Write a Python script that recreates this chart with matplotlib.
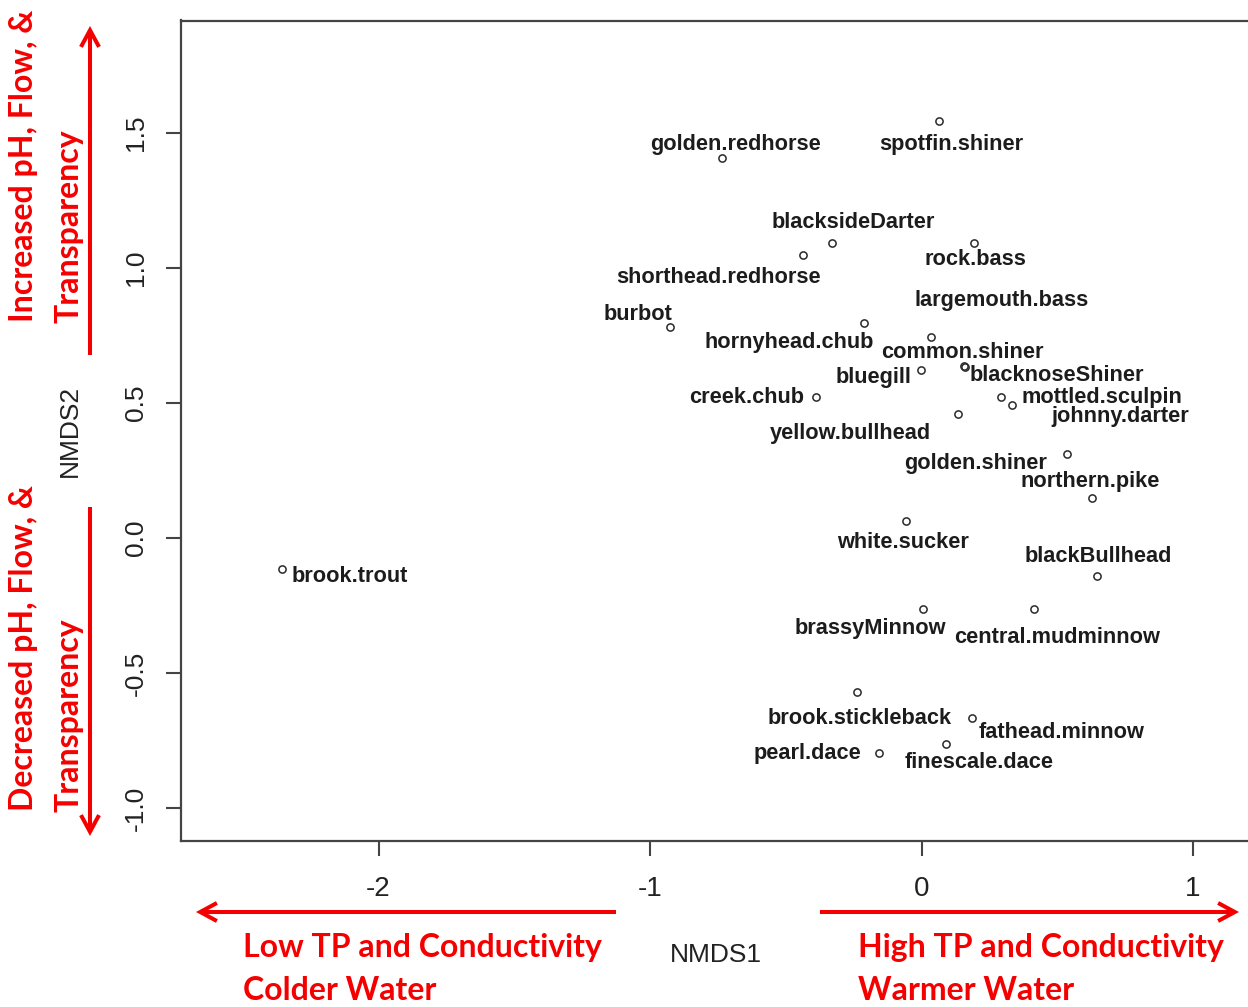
import matplotlib
matplotlib.use("Agg")
import matplotlib.pyplot as plt
from matplotlib.patches import FancyArrowPatch
from matplotlib.patches import ArrowStyle

plt.rcParams["axes.unicode_minus"] = False

# NMDS species scores
species = [
    "golden.redhorse", "spotfin.shiner", "blacksideDarter", "shorthead.redhorse",
    "rock.bass", "largemouth.bass", "burbot", "hornyhead.chub", "common.shiner",
    "bluegill", "blacknoseShiner", "mottled.sculpin", "creek.chub", "johnny.darter",
    "yellow.bullhead", "golden.shiner", "northern.pike", "white.sucker",
    "blackBullhead", "brassyMinnow", "central.mudminnow", "brook.stickleback",
    "fathead.minnow", "finescale.dace", "pearl.dace", "brook.trout",
]
nmds1 = [
    -0.735, 0.064, -0.330, -0.436,
    0.193, 0.157, -0.928, -0.210, 0.034,
    -0.002, 0.162, 0.291, -0.387, 0.335,
    0.136, 0.536, 0.628, -0.056,
    0.648, 0.004, 0.414, -0.236,
    0.185, 0.091, -0.158, -2.357,
]
nmds2 = [
    1.407, 1.544, 1.093, 1.048,
    1.093, 0.637, 0.783, 0.797, 0.743,
    0.622, 0.632, 0.523, 0.521, 0.493,
    0.458, 0.311, 0.147, 0.063,
    -0.141, -0.264, -0.264, -0.572,
    -0.666, -0.763, -0.797, -0.116,
]

# label placement (pixel offsets from each point, x right / y up)
label_offsets = [
    (14, 14), (12, -23), (21, 20), (-85, -22),
    (2, -17), (37, 66), (-32, 12), (-75, -20), (32, -15),
    (-47, -7), (91, -8), (101, -1), (-70, 0), (108, -12),
    (-108, -19), (-91, -9), (-2, 17), (-3, -22),
    (1, 20), (-52, -19), (23, -28), (2, -26),
    (90, -15), (33, -18), (-71, 0), (68, -7),
]

x_ticks = [-2, -1, 0, 1]
y_ticks = [-1.0, -0.5, 0.0, 0.5, 1.0, 1.5]
y_tick_labels = ["-1.0", "-0.5", "0.0", "0.5", "1.0", "1.5"]

W, H = 1248, 1007
fig = plt.figure(figsize=(W / 100, H / 100), dpi=100)
ax = fig.add_axes([180.5 / W, 166 / H, 1071.5 / W, 820.5 / H])

ax.plot(nmds1, nmds2, linestyle="none", marker="o", ms=5.2,
        mfc="none", mec="#2a2a2a", mew=1.1)

for name, x, y, (dx, dy) in zip(species, nmds1, nmds2, label_offsets):
    ax.annotate(name, (x, y), xytext=(dx, dy), textcoords="offset pixels",
                ha="center", va="center", fontsize=15.7, fontweight="bold",
                family="Liberation Sans", color="#1c1c1c")

ax.set_xlim(-2.7293, 1.2173)
ax.set_ylim(-1.1222, 1.9167)

ax.set_xticks(x_ticks)
ax.set_xticklabels([str(t) for t in x_ticks])
ax.set_yticks(y_ticks)
ax.set_yticklabels(y_tick_labels)

for s in ax.spines.values():
    s.set_color("#444444")
    s.set_linewidth(1.6)

ax.tick_params(axis="both", length=10.8, width=1.5, color="#444444",
               labelcolor="#222222")
ax.tick_params(axis="x", pad=24, labelsize=20)
ax.tick_params(axis="y", pad=21.5, labelsize=19)
for lab in ax.get_xticklabels():
    lab.set_family("Liberation Sans")
    lab.set_va("center")
for lab in ax.get_yticklabels():
    lab.set_family("Liberation Sans")
    lab.set_rotation(90)
    lab.set_ha("center")
    lab.set_va("center")

ax.set_xlabel("NMDS1", family="Liberation Sans", fontsize=19, color="#222222")
ax.set_ylabel("NMDS2", family="Liberation Sans", fontsize=19, color="#222222")
ax.xaxis.label.set_va("center")
ax.yaxis.label.set_va("center")
ax.xaxis.set_label_coords(0.5, -0.1389)
ax.yaxis.set_label_coords(-0.1031, 0.5)


def fpx(x, y_img):
    return (x / W, (H - y_img) / H)


RED = "#F50000"


def arrow(p0, p1):
    a = FancyArrowPatch(fpx(*p0), fpx(*p1), transform=fig.transFigure,
                        arrowstyle=ArrowStyle("->", head_length=1.2, head_width=0.65),
                        mutation_scale=10, color=RED, lw=2.9,
                        shrinkA=0, shrinkB=0, capstyle="butt", joinstyle="miter")
    fig.add_artist(a)


arrow((90, 355), (90, 26))
arrow((90, 507), (90, 836))
arrow((616, 912), (196, 912))
arrow((820, 912), (1239, 912))

red_kw = dict(color=RED, family=["Lato", "DejaVu Sans"], fontweight="bold",
              fontsize=23, rotation_mode="anchor", ha="left", va="baseline")

fig.text(*fpx(33, 322), "Increased pH, Flow, &", rotation=90, **red_kw)
fig.text(*fpx(78, 323), "Transparency", rotation=90, **red_kw)
fig.text(*fpx(33, 811), "Decreased pH, Flow, &", rotation=90, **red_kw)
fig.text(*fpx(78, 812), "Transparency", rotation=90, **red_kw)

fig.text(*fpx(243, 957), "Low TP and Conductivity", **red_kw)
fig.text(*fpx(243, 1000), "Colder Water", **red_kw)
fig.text(*fpx(858, 957), "High TP and Conductivity", **red_kw)
fig.text(*fpx(858, 1000), "Warmer Water", **red_kw)

fig.savefig("out.png", dpi=100)
